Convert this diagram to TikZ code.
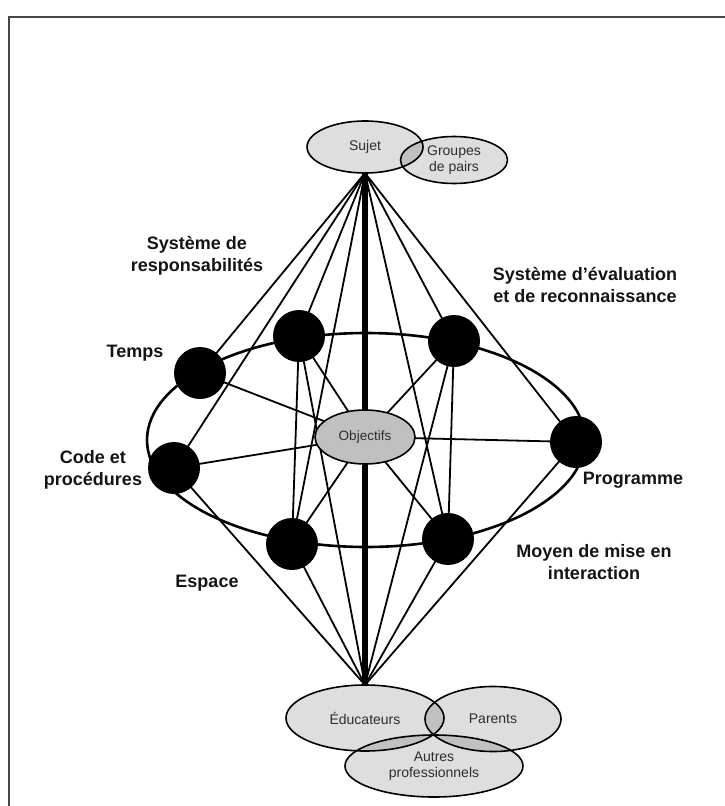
\documentclass[tikz,border=0pt]{standalone}
\usepackage{fontspec}
\setmainfont{Liberation Sans}
\usetikzlibrary{shapes.geometric,backgrounds}

\definecolor{objfill}{RGB}{192,192,192}
\definecolor{txtgray}{RGB}{45,45,45}
\definecolor{labcol}{RGB}{20,20,20}
\definecolor{framecol}{RGB}{70,70,70}

\begin{document}
\begin{tikzpicture}[x=1pt,y=-1pt,
  oval/.style={ellipse, draw=black, line width=1.6pt, fill=black, fill opacity=0.13,
    text opacity=1, inner sep=0pt, outer sep=0pt, text=txtgray, align=center,
    font=\fontsize{14}{15.6}\selectfont},
  core/.style={ellipse, draw=black, line width=1.6pt, fill=objfill, inner sep=0pt,
    outer sep=0pt, text=txtgray, font=\fontsize{13.5}{15}\selectfont},
  comp/.style={circle, fill=black, minimum size=52pt, inner sep=0pt, outer sep=0pt},
  lab/.style={font=\bfseries\fontsize{18}{21.5}\selectfont, align=center, text=labcol},
  conn/.style={line width=1.8pt, black},
  axis/.style={line width=5.5pt, black},
  ringline/.style={ellipse, draw=black, line width=2.6pt, inner sep=0pt, outer sep=0pt}
]
\useasboundingbox (0,0) rectangle (725,806);

% outer frame
\draw[framecol, line width=1.8pt] (9,806) -- (9,17) -- (725,17);

% top group
\node[oval, minimum width=116pt, minimum height=52pt] (sujet) at (365,147) {Sujet};
\node[oval, minimum width=107pt, minimum height=47pt] (pairs) at (454,160) {Groupes\\de pairs};

% bottom group
\node[oval, minimum width=158pt, minimum height=66pt] (educ) at (365,718) {Éducateurs};
\node[oval, minimum width=136pt, minimum height=65pt] (parents) at (493,719) {Parents};
\node[oval, minimum width=178pt, minimum height=62pt,
      font=\fontsize{14}{16.6}\selectfont] (autres) at (434,766) {Autres\\professionnels};

% centre
\node[core, minimum width=100pt, minimum height=54pt] (obj) at (365,437) {Objectifs};

% components on the ring
\node[comp] (A) at (299,336) {};
\node[comp] (B) at (454,341) {};
\node[comp] (temps) at (200,373) {};
\node[comp] (code) at (174,468) {};
\node[comp] (prog) at (576,442) {};
\node[comp] (F) at (292,544) {};
\node[comp] (G) at (448,539) {};

% labels
\node[lab] (lresp) at (197,256) {Système de\\responsabilités};
\node[lab] (leval) at (585,285) {Système d’évaluation\\et de reconnaissance};
\node[lab] (ltemps) at (135,353) {Temps};
\node[lab] (lcode) at (93,470) {Code et\\procédures};
\node[lab] (lprog) at (633,480) {Programme};
\node[lab] (lmoy) at (594,562) {Moyen de mise en\\interaction};
\node[lab] (lesp) at (207,583) {Espace};

\begin{scope}[on background layer]
  \node[ringline, minimum width=438pt, minimum height=214pt] (ring) at (366,440) {};
  \foreach \n in {temps,code,A,F,G,B,prog}
    \draw[conn] (sujet.south) -- (\n.center);
  \foreach \n in {code,F,A,B,G,prog}
    \draw[conn] (educ.north) -- (\n.center);
  \foreach \n in {temps,code,A,F,B,G,prog}
    \draw[conn] (obj.center) -- (\n.center);
  \draw[conn] (A.center) -- (F.center);
  \draw[conn] (B.center) -- (G.center);
  \draw[axis] (sujet.south) -- (educ.north);
\end{scope}
\end{tikzpicture}
\end{document}
